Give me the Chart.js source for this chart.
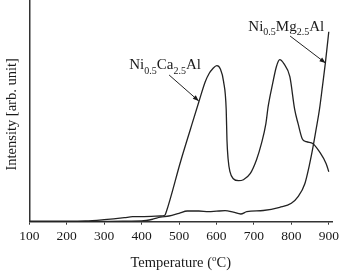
<!DOCTYPE html>
<html>
<head>
<meta charset="utf-8">
<script src="https://cdn.jsdelivr.net/npm/chart.js@4"></script>
<style>
  body { margin: 0; background: #fff; }
  #wrap { width: 343px; height: 274px; position: relative; }
</style>
</head>
<body>
<div id="wrap"><canvas id="tprChart"></canvas></div>
<script>
// temperature (°C) and intensity (arb. unit)
var caTemps = [100, 200, 250, 300, 354, 376, 400, 450, 462, 466, 504, 530, 553, 570, 580, 590, 601, 610, 619, 626, 628, 631, 636, 645, 659, 672, 690, 707, 720, 732, 738, 750, 760, 769, 780, 796, 809, 818, 829, 840, 858, 875, 893, 900];
var caValues = [0.5, 0.5, 0.7, 2, 4, 5, 5, 5.7, 6.5, 10, 60, 92, 120, 140, 148, 153, 156, 153, 140, 112, 82, 63, 50, 43, 41, 42, 48, 62, 78, 98, 115, 138, 155, 162, 158, 145, 112, 98, 83, 80, 78, 70, 58, 50];

var mgTemps = [100, 250, 300, 350, 400, 430, 450, 473, 500, 522, 553, 579, 600, 623, 645, 665, 681, 725, 769, 800, 818, 836, 849, 858, 866, 875, 883, 891, 900];
var mgValues = [0, 0, 0.3, 0.6, 0.8, 2.5, 4.5, 5.7, 8.4, 10.7, 10.7, 10, 10.5, 11, 9.5, 7.7, 10, 11.2, 14.4, 18.4, 25, 38, 58, 75, 92, 112, 135, 159, 190];

var tempTicks = [100, 200, 300, 400, 500, 600, 700, 800, 900];

var serif = '"Liberation Serif", "Times New Roman", serif';
var ink = '#222';

function toPoints(xs, ys) {
    return xs.map(function(x, i) { return { x: x, y: ys[i] }; });
}

// labels with subscripts, each with an arrow to its curve (data coords)
var curveLabels = [
    { parts: [['Ni', 0], ['0.5', 1], ['Ca', 0], ['2.5', 1], ['Al', 0]], at: [367, 152.7], from: [473.5, 146.7], to: [552.7, 120.7] },
    { parts: [['Ni', 0], ['0.5', 1], ['Mg', 0], ['2.5', 1], ['Al', 0]], at: [685, 191.2], from: [796.6, 185.7], to: [891.3, 158.7] }
];

var decorations = {
    id: 'decorations',
    afterDraw: function(chart) {
        var ctx = chart.ctx;
        var xs = chart.scales.x, ys = chart.scales.y;
        var area = chart.chartArea;
        ctx.save();
        ctx.fillStyle = '#1a1a1a';
        ctx.strokeStyle = ink;
        ctx.textBaseline = 'alphabetic';

        curveLabels.forEach(function(lb) {
            var x = xs.getPixelForValue(lb.at[0]);
            var y = ys.getPixelForValue(lb.at[1]);
            lb.parts.forEach(function(p) {
                ctx.font = (p[1] ? '10px ' : '15px ') + serif;
                ctx.fillText(p[0], x, p[1] ? y + 4.5 : y);
                x += ctx.measureText(p[0]).width;
            });
            var x1 = xs.getPixelForValue(lb.from[0]), y1 = ys.getPixelForValue(lb.from[1]);
            var x2 = xs.getPixelForValue(lb.to[0]), y2 = ys.getPixelForValue(lb.to[1]);
            ctx.lineWidth = 1;
            ctx.beginPath();
            ctx.moveTo(x1, y1);
            ctx.lineTo(x2, y2);
            ctx.stroke();
            var a = Math.atan2(y2 - y1, x2 - x1);
            ctx.beginPath();
            ctx.moveTo(x2, y2);
            ctx.lineTo(x2 - 6 * Math.cos(a) + 2.3 * Math.sin(a), y2 - 6 * Math.sin(a) - 2.3 * Math.cos(a));
            ctx.lineTo(x2 - 6 * Math.cos(a) - 2.3 * Math.sin(a), y2 - 6 * Math.sin(a) + 2.3 * Math.cos(a));
            ctx.closePath();
            ctx.fill();
        });

        // x title with superscript o
        ctx.font = '14.5px ' + serif;
        var pre = 'Temperature (', post = 'C)';
        var wPre = ctx.measureText(pre).width, wPost = ctx.measureText(post).width;
        ctx.font = '9px ' + serif;
        var wSup = ctx.measureText('o').width;
        var cx = (area.left + area.right) / 2;
        var tx = cx - (wPre + wSup + wPost) / 2;
        var ty = 266.5;
        ctx.font = '14.5px ' + serif;
        ctx.fillText(pre, tx, ty);
        ctx.font = '9px ' + serif;
        ctx.fillText('o', tx + wPre, ty - 6);
        ctx.font = '14.5px ' + serif;
        ctx.fillText(post, tx + wPre + wSup, ty);

        // y title
        ctx.translate(16, (area.top + area.bottom) / 2 + 3.5);
        ctx.rotate(-Math.PI / 2);
        ctx.textAlign = 'center';
        ctx.fillText('Intensity [arb. unit]', 0, 0);
        ctx.restore();
    }
};

var ctxTpr = document.getElementById('tprChart').getContext('2d');
var tprChart = new Chart(ctxTpr, {
    type: 'line',
    data: {
        datasets: [{
            label: 'Ni0.5Ca2.5Al',
            data: toPoints(caTemps, caValues),
            borderColor: ink,
            borderWidth: 1.3,
            pointRadius: 0,
            cubicInterpolationMode: 'monotone',
            fill: false
        }, {
            label: 'Ni0.5Mg2.5Al',
            data: toPoints(mgTemps, mgValues),
            borderColor: ink,
            borderWidth: 1.3,
            pointRadius: 0,
            cubicInterpolationMode: 'monotone',
            fill: false
        }]
    },
    options: {
        responsive: true,
        maintainAspectRatio: false,
        animation: false,
        layout: { padding: { top: 0, right: 8.5, bottom: 0, left: 0 } },
        plugins: {
            legend: { display: false },
            tooltip: { enabled: false }
        },
        scales: {
            x: {
                type: 'linear',
                min: 100,
                max: 909,
                afterBuildTicks: function(scale) {
                    scale.ticks = tempTicks.map(function(v) { return { value: v }; });
                },
                afterFit: function(scale) { scale.height = 52.3; },
                grid: { drawOnChartArea: false, tickLength: 3, color: '#333', lineWidth: 1 },
                border: { display: true, color: '#333', width: 1.5 },
                ticks: {
                    padding: 4,
                    maxRotation: 0,
                    autoSkip: false,
                    color: '#1a1a1a',
                    font: { family: serif, size: 13.5 }
                }
            },
            y: {
                min: 0,
                max: 221.7,
                afterFit: function(scale) { scale.width = 29.3; },
                grid: { display: false },
                border: { display: true, color: '#333', width: 1.5 },
                ticks: { display: false }
            }
        }
    },
    plugins: [decorations]
});
</script>
</body>
</html>
